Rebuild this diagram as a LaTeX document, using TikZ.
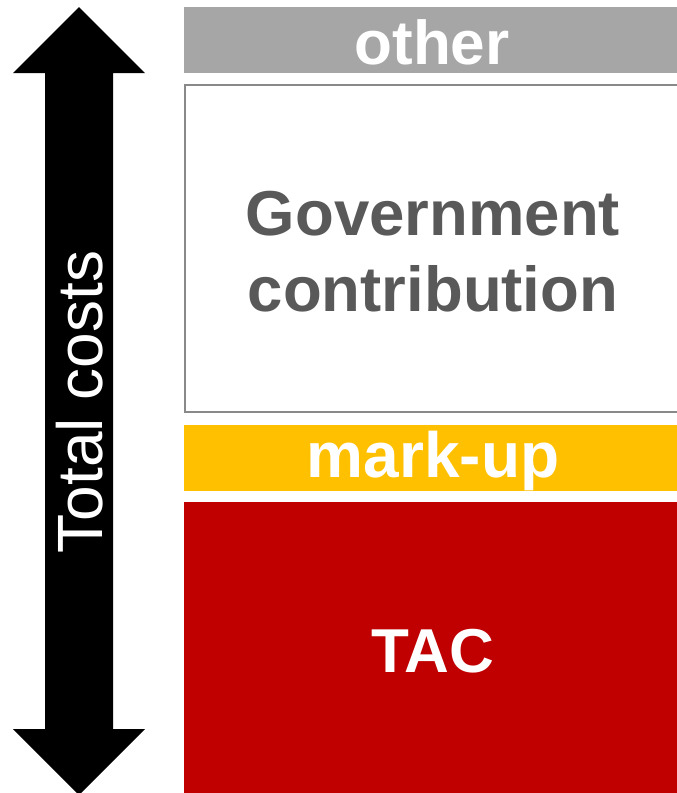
\documentclass[tikz,border=0pt]{standalone}
\usepackage{fontspec}
\setmainfont{Liberation Sans}
\definecolor{othergray}{HTML}{A6A6A6}
\definecolor{bordergray}{HTML}{898989}
\definecolor{textgray}{HTML}{595959}
\definecolor{markyellow}{HTML}{FFC000}
\definecolor{tacred}{HTML}{C00000}
\begin{document}
\begin{tikzpicture}[x=1pt,y=-1pt,
  bar/.style={draw=none,minimum width=494pt,anchor=north west,inner sep=0pt},
  bigtext/.style={font=\fontsize{62}{76}\selectfont\bfseries}]
\useasboundingbox (0,0) rectangle (677,793);
% arrow
\fill[black] (79,7) -- (145,73) -- (113,73) -- (113,729) -- (145,729) -- (79,795)
  -- (13,729) -- (45,729) -- (45,73) -- (13,73) -- cycle;
\node[rotate=90,text=white,font=\fontsize{64}{70}\selectfont] (total) at (80,402) {Total costs};
% boxes
\node[bar,fill=othergray,minimum height=66pt] (other) at (184,7) {};
\node[bigtext,text=white] (othertxt) at (432,42) {other};
\draw[bordergray,line width=2pt] (185,85) rectangle (690,412);
\coordinate (gov) at (433,252);
\node[font=\fontsize{63.5}{76}\selectfont\bfseries,text=textgray,align=center] (govtxt) at (gov) {Government\\contribution};
\node[bar,fill=markyellow,minimum height=66pt] (markup) at (184,425) {};
\node[font=\fontsize{64}{76}\selectfont\bfseries,text=white] (markuptxt) at (433,461) {mark-up};
\node[bar,fill=tacred,minimum height=295pt] (tac) at (184,502) {};
\node[bigtext,text=white] (tactxt) at (433,651) {TAC};
\end{tikzpicture}
\end{document}
